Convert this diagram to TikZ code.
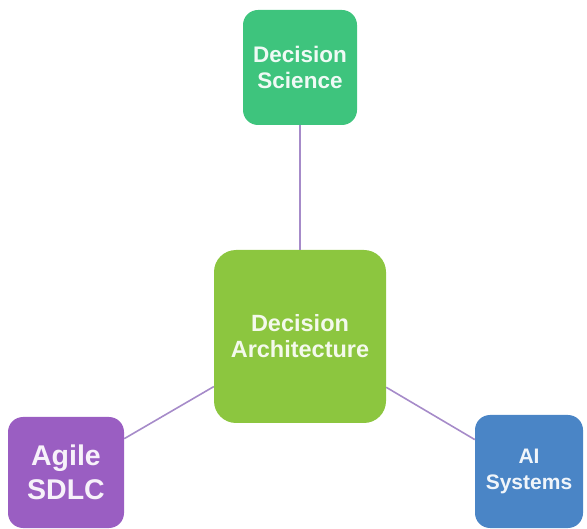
\documentclass[tikz,border=0pt]{standalone}
\usepackage{fontspec}
\setmainfont{Liberation Sans}
\definecolor{dsgreen}{HTML}{3EC47D}
\definecolor{archgreen}{HTML}{8CC63F}
\definecolor{agilepurple}{HTML}{9A5EC2}
\definecolor{aiblue}{HTML}{4A85C6}
\definecolor{linkpurple}{HTML}{A68BC9}
\begin{document}
\begin{tikzpicture}[x=1pt,y=-1pt,
  boxbase/.style={rectangle, rounded corners=15pt, inner sep=0pt, align=center, font=\bfseries},
  link/.style={draw=linkpurple, line width=1.6pt}]
\useasboundingbox (0,0) rectangle (587,529);
\node[boxbase, fill=dsgreen, minimum width=114pt, minimum height=115pt,
  text=white!92!dsgreen, font=\bfseries\fontsize{22.5}{25.5}\selectfont] (ds) at (300,67.5) {Decision\\Science};
\node[boxbase, fill=archgreen, rounded corners=22pt, minimum width=172pt, minimum height=173pt,
  text=white!90!archgreen, font=\bfseries\fontsize{23.5}{26}\selectfont] (arch) at (300,336.5) {Decision\\Architecture};
\node[boxbase, fill=agilepurple, minimum width=116pt, minimum height=111pt,
  text=white!92!agilepurple, font=\bfseries\fontsize{28.5}{34}\selectfont] (agile) at (66,472.5) {Agile\\SDLC};
\node[boxbase, fill=aiblue, minimum width=108pt, minimum height=113pt,
  text=white!92!aiblue, font=\bfseries\fontsize{21}{25.5}\selectfont] (ai) at (529,471.5) {AI\\Systems};
\draw[link] (ds) -- (arch);
\draw[link] (agile) -- (arch);
\draw[link] (ai) -- (arch);
\end{tikzpicture}
\end{document}
